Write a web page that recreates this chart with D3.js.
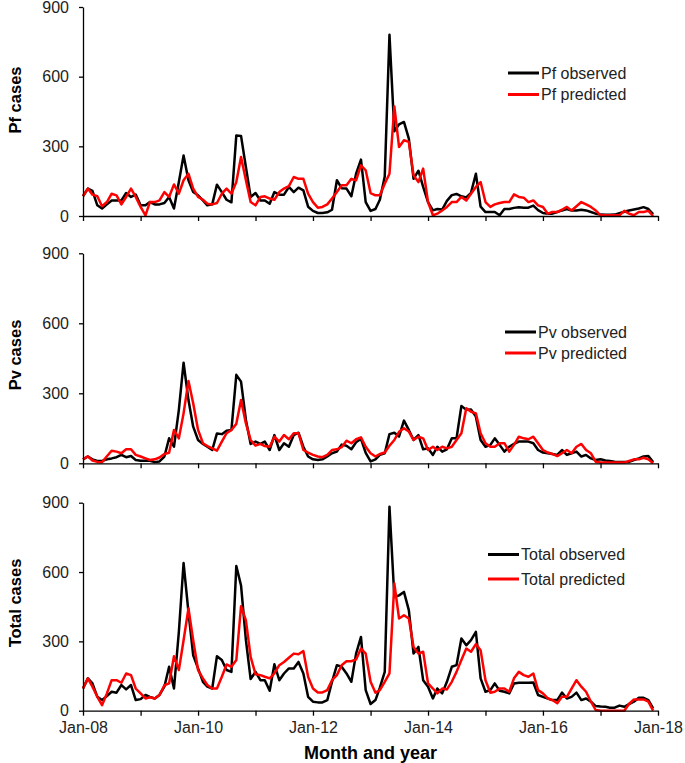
<!DOCTYPE html>
<html>
<head>
<meta charset="utf-8">
<script src="https://cdn.jsdelivr.net/npm/d3@7"></script>
<style>
  body { margin: 0; background: #fff; }
  svg { display: block; font-family: "Liberation Sans", Arial, sans-serif; }
</style>
</head>
<body>
<svg id="chart" width="685" height="763"></svg>
<script>
// monthly series, Jan 2008 .. Dec 2017
const pfObserved = [85,118,108,46,32,50,67,67,67,99, 82,92,46,46,60,50,50,56,82,32,
  146,261,154,103,89,67,46,50,135,103, 70,59,347,345,210,82,99,67,67,53,
  103,92,92,125,103,122,110,40,22,13, 13,16,27,154,120,118,85,182,243,60,
  22,30,70,170,780,365,395,405,333,160, 195,125,60,24,30,28,65,90,95,85,
  80,100,182,40,17,17,17,3,30,30, 35,38,36,36,45,25,13,10,10,17,
  24,30,24,24,27,24,17,10,6,5, 5,6,12,18,24,28,32,38,30,8];
const pfPredicted = [86,118,92,85,42,60,96,89,50,82, 118,82,39,3,60,60,67,103,82,136,
  96,154,182,118,82,70,53,50,56,96, 118,96,146,254,154,60,46,82,85,75,
  70,103,118,129,168,160,160,96,60,36, 39,50,75,103,132,132,160,154,218,197,
  99,89,89,139,182,472,297,326,319,175, 146,204,60,3,10,24,39,60,60,82,
  67,96,125,146,60,39,50,56,60,60, 93,82,79,60,67,46,39,10,17,17,
  27,39,24,42,60,50,39,24,3,3, 3,3,3,22,10,3,17,17,22,0];
const pvObserved = [17,29,17,10,10,17,21,26,36,26, 31,14,11,11,11,5,8,29,107,71,
  229,431,271,157,100,83,71,57,128,125, 140,143,379,350,186,83,93,83,93,57,
  121,57,86,71,121,131,71,29,17,14, 17,29,43,50,80,75,60,90,105,45,
  8,17,36,43,125,131,115,183,143,100, 121,60,64,36,71,50,60,107,107,246,
  229,231,200,100,71,79,107,79,50,71, 83,93,93,93,86,57,46,43,40,36,
  57,36,43,50,29,36,21,14,17,12, 10,7,6,6,6,14,21,29,31,5];
const pvPredicted = [17,30,12,6,5,30,54,50,43,60, 60,36,29,21,14,17,25,40,45,143,
  107,214,353,257,143,86,74,64,54,93, 129,143,169,271,171,100,76,83,74,71,
  114,93,121,103,129,129,57,46,36,29, 26,36,57,60,69,97,86,103,111,71,
  43,29,40,46,75,100,135,150,136,100, 114,107,57,71,57,71,64,71,100,129,
  236,221,214,129,86,71,71,86,86,50, 79,114,107,103,114,86,57,46,40,31,
  43,57,43,71,83,57,43,7,3,3, 3,3,3,3,10,17,17,24,17,0];
const totalObserved = [96,140,118,60,46,63,82,78,111,92, 111,46,50,68,60,53,68,104,190,96,
  341,639,427,240,183,125,104,96,236,219, 176,168,626,542,305,137,168,132,132,86,
  201,132,161,183,183,211,161,60,39,36, 36,46,125,197,190,161,125,247,319,89,
  29,46,100,168,883,492,499,514,435,247, 276,132,104,53,96,75,125,190,197,312,
  283,305,341,140,82,89,118,86,82,75, 118,121,121,121,122,68,60,53,46,46,
  78,53,60,78,46,53,39,20,18,17, 13,13,22,17,29,39,56,56,46,10];
const totalPredicted = [96,140,104,60,24,75,132,132,121,161, 154,96,75,53,58,53,68,110,118,236,
  176,305,442,305,176,140,111,96,96,147, 200,190,219,452,391,233,158,154,147,140,
  161,197,211,229,247,244,258,147,96,79, 79,89,132,154,197,214,214,222,269,247,
  125,78,89,125,161,550,399,413,399,276, 247,255,118,96,75,96,92,125,168,219,
  269,255,288,262,132,78,82,96,96,82, 140,168,154,147,161,89,75,53,46,32,
  60,60,96,132,104,82,39,3,0,0, 0,0,0,0,29,49,49,49,39,0];

const months = d3.timeMonth.range(new Date(2008, 0, 1), new Date(2018, 0, 1));
const yearTicks = d3.timeYear.range(new Date(2008, 0, 1), new Date(2018, 0, 2));
const xTickLabels = ["Jan-08", "Jan-10", "Jan-12", "Jan-14", "Jan-16", "Jan-18"];
const yTicks = [0, 300, 600, 900];

const panels = [
  { title: "Pf cases", obs: pfObserved, pred: pfPredicted,
    names: ["Pf observed", "Pf predicted"],
    top: 7, bottom: 216, titleY: 100, leg: { x1: 508, x2: 539, y1: 73, y2: 94.5 } },
  { title: "Pv cases", obs: pvObserved, pred: pvPredicted,
    names: ["Pv observed", "Pv predicted"],
    top: 253.3, bottom: 463.3, titleY: 355, leg: { x1: 505, x2: 536, y1: 332, y2: 353 } },
  { title: "Total cases", obs: totalObserved, pred: totalPredicted,
    names: ["Total observed", "Total predicted"],
    top: 502.7, bottom: 710.7, titleY: 603, leg: { x1: 488, x2: 519, y1: 554.5, y2: 579 } }
];

const svg = d3.select('#chart');
const x = d3.scaleTime()
  .domain([new Date(2008, 0, 1), new Date(2018, 0, 1)])
  .range([83, 658]);

panels.forEach((p, pi) => {
  const y = d3.scaleLinear().domain([0, 900]).range([p.bottom, p.top]);
  const g = svg.append('g');

  const line = d3.line()
    .x((d, i) => x(months[i]))
    .y(d => y(d));

  g.append('path')
    .datum(p.obs)
    .attr('d', line)
    .style('fill', 'none')
    .style('stroke', '#000')
    .style('stroke-width', 2.5)
    .style('stroke-linejoin', 'round');

  g.append('path')
    .datum(p.pred)
    .attr('d', line)
    .style('fill', 'none')
    .style('stroke', '#ff0000')
    .style('stroke-width', 2.5)
    .style('stroke-linejoin', 'round');

  // y axis
  const yAxis = g.append('g')
    .attr('transform', `translate(${x.range()[0]},0)`)
    .call(d3.axisLeft(y).tickValues(yTicks).tickSize(4).tickSizeOuter(0).tickPadding(10));
  yAxis.selectAll('text')
    .style('font-size', '16px')
    .style('fill', '#222');

  // x axis
  const isLast = pi === panels.length - 1;
  const xAxis = g.append('g')
    .attr('transform', `translate(0,${p.bottom})`)
    .call(d3.axisBottom(x)
      .tickValues(yearTicks)
      .tickSize(5)
      .tickSizeOuter(0)
      .tickPadding(6.4)
      .tickFormat((d, i) => (isLast && i % 2 === 0) ? xTickLabels[i / 2] : ''));
  xAxis.selectAll('text')
    .style('font-size', '16px')
    .style('fill', '#222');

  svg.selectAll('.domain, .tick line')
    .style('stroke', '#000')
    .style('stroke-width', 1.3);

  // y title
  g.append('text')
    .attr('transform', `translate(15,${p.titleY}) rotate(-90)`)
    .attr('dy', '0.35em')
    .style('text-anchor', 'middle')
    .style('font-size', '16.5px')
    .style('font-weight', 'bold')
    .style('fill', '#000')
    .text(p.title);

  // legend
  const rows = [
    { name: p.names[0], color: '#000', y: p.leg.y1 },
    { name: p.names[1], color: '#ff0000', y: p.leg.y2 }
  ];
  const legend = g.append('g').attr('class', 'legend');
  const items = legend.selectAll('.legend-item')
    .data(rows)
    .enter().append('g')
    .attr('class', 'legend-item');
  items.append('line')
    .attr('x1', p.leg.x1)
    .attr('x2', p.leg.x2)
    .attr('y1', d => d.y)
    .attr('y2', d => d.y)
    .style('stroke', d => d.color)
    .style('stroke-width', 3);
  items.append('text')
    .attr('x', p.leg.x2 + 2)
    .attr('y', d => d.y)
    .attr('dy', '0.35em')
    .style('font-size', '16px')
    .style('fill', '#222')
    .text(d => d.name);
});

svg.append('text')
  .attr('x', (x.range()[0] + x.range()[1]) / 2)
  .attr('y', 753)
  .attr('dy', '0.35em')
  .style('text-anchor', 'middle')
  .style('font-size', '18px')
  .style('font-weight', 'bold')
  .style('fill', '#000')
  .text('Month and year');
</script>
</body>
</html>
